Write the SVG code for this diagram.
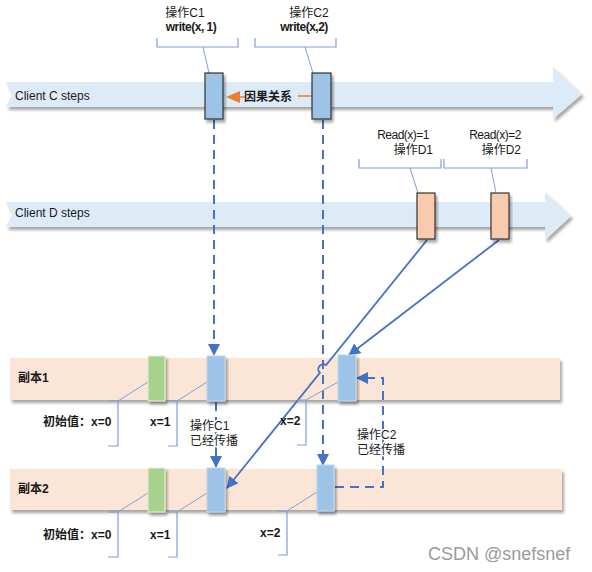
<svg xmlns="http://www.w3.org/2000/svg" width="592" height="572" viewBox="0 0 592 572">
<style>
text{font-family:"Liberation Sans","Noto Sans CJK SC",sans-serif;fill:#1a1a1a;font-size:12px}
.b{font-weight:bold}
.cond{letter-spacing:-0.5px}
.wm{font-size:18px;fill:#9a9a9a}
.band{fill:#DDEBF7}
.rep{fill:#FBE5D6}
.opc{fill:#9DC3E6;stroke:#333;stroke-width:1.2}
.opd{fill:#F8CBAD;stroke:#333;stroke-width:1.2}
.rb{fill:#9DC3E6;stroke:#BDD7EE;stroke-width:1}
.rg{fill:#A9D18E;stroke:#E2F0D9;stroke-width:1}
.br{fill:none;stroke:#7F9FDB;stroke-width:1.2}
.ld{fill:none;stroke:#7F9FDB;stroke-width:1}
.dash{fill:none;stroke:#4472C4;stroke-width:2;stroke-dasharray:9 6}
.sol{fill:none;stroke:#4472C4;stroke-width:1.8}
.halo{stroke:#fff;stroke-width:3px;paint-order:stroke;stroke-linejoin:round}
</style>
<defs>
<filter id="sh" x="-10%" y="-30%" width="130%" height="180%">
<feDropShadow dx="2" dy="3" stdDeviation="1.8" flood-color="#000" flood-opacity="0.35"/>
</filter>
<marker id="ah" viewBox="0 0 12 12" refX="11" refY="6" markerWidth="12" markerHeight="12" markerUnits="userSpaceOnUse" orient="auto">
<path d="M0,0 L12,6 L0,12 z" fill="#4472C4"/>
</marker>
</defs>

<g id="clientC">
<path class="band" filter="url(#sh)" d="M6,82 H553 V67 L582,94 L553,119 V107 H6 L12,94.5 Z"/>
<text x="15" y="100">Client C steps</text>
</g>
<g id="clientD">
<path class="band" filter="url(#sh)" d="M6,202 H545 V192 L571,216 L545,240 V227 H6 L12,214.5 Z"/>
<text x="15" y="217">Client D steps</text>
</g>

<g id="replica1">
<rect class="rep" filter="url(#sh)" x="10" y="358" width="550" height="42"/>
<text class="b" x="18" y="382">副本1</text>
</g>
<g id="replica2">
<rect class="rep" filter="url(#sh)" x="10" y="469" width="552" height="41"/>
<text class="b" x="18" y="493">副本2</text>
</g>

<g id="connectors">
<line class="dash" x1="214" y1="120" x2="214" y2="355" marker-end="url(#ah)"/>
<line class="dash" x1="323" y1="120" x2="323" y2="465" marker-end="url(#ah)"/>
<line class="dash" x1="216" y1="402" x2="216" y2="467" marker-end="url(#ah)"/>
<path class="dash" d="M335,487 H383 V378 H357" marker-end="url(#ah)"/>
<path class="sol" d="M427,240 L326.1,365.1 A5,5 0 0 0 319.9,372.9 L227,488" marker-end="url(#ah)"/>
<line class="sol" x1="499" y1="240" x2="349" y2="355" marker-end="url(#ah)"/>
</g>

<g id="causal">
<polygon points="226,97 240,91 240,103" fill="#ED7D31"/>
<line x1="239" y1="97" x2="246" y2="97" stroke="#ED7D31" stroke-width="1.5"/>
<line x1="298" y1="96" x2="312" y2="96" stroke="#ED7D31" stroke-width="1.5"/>
<text class="b" x="244" y="101">因果关系</text>
</g>

<g id="opC1">
<path class="br" d="M157,38 V47 H238 V38"/>
<line class="ld" x1="203" y1="47" x2="209" y2="73"/>
<rect class="opc" filter="url(#sh)" x="205" y="73" width="18" height="46"/>
<text x="185" y="17" text-anchor="middle">操作C1</text>
<text class="b cond" x="191" y="31" text-anchor="middle">write(x, 1)</text>
</g>
<g id="opC2">
<path class="br" d="M255,38 V47 H336 V38"/>
<line class="ld" x1="305" y1="47" x2="313" y2="73"/>
<rect class="opc" filter="url(#sh)" x="312" y="73" width="19" height="46"/>
<text x="309" y="17" text-anchor="middle">操作C2</text>
<text class="b cond" x="304" y="31" text-anchor="middle">write(x,2)</text>
</g>
<g id="opD1">
<path class="br" d="M359,159 V168 H441 V159"/>
<line class="ld" x1="410" y1="168" x2="418" y2="193"/>
<rect class="opd" filter="url(#sh)" x="417" y="193" width="18" height="46"/>
<text class="cond" x="429" y="139" text-anchor="end">Read(x)=1</text>
<text x="433" y="154" text-anchor="end">操作D1</text>
</g>
<g id="opD2">
<path class="br" d="M444,159 V168 H527 V159"/>
<line class="ld" x1="491" y1="168" x2="496" y2="193"/>
<rect class="opd" filter="url(#sh)" x="491" y="193" width="18" height="46"/>
<text class="cond" x="521" y="139" text-anchor="end">Read(x)=2</text>
<text x="521" y="154" text-anchor="end">操作D2</text>
</g>

<g id="r1x0">
<path class="ld" d="M148,382 L118,401"/>
<path class="br" d="M108,401 H118 V446 H108"/>
<rect class="rg" filter="url(#sh)" x="148" y="356" width="17" height="45"/>
<text class="b" x="43" y="426">初始值：x=0</text>
</g>
<g id="r1x1">
<path class="ld" d="M207,382 L177,401"/>
<path class="br" d="M168,401 H177 V446 H168"/>
<rect class="rb" filter="url(#sh)" x="207" y="356" width="18" height="45"/>
<text class="b" x="150" y="426">x=1</text>
</g>
<g id="r1x2">
<path class="ld" d="M338,382 L306,400"/>
<path class="br" d="M297,400 H306 V445 H297"/>
<rect class="rb" filter="url(#sh)" x="338" y="355" width="18" height="46"/>
<text class="b" x="280" y="425">x=2</text>
</g>

<g id="r2x0">
<path class="ld" d="M148,493 L118,512"/>
<path class="br" d="M108,512 H118 V557 H108"/>
<rect class="rg" filter="url(#sh)" x="148" y="468" width="17" height="44"/>
<text class="b" x="43" y="539">初始值：x=0</text>
</g>
<g id="r2x1">
<path class="ld" d="M207,493 L177,512"/>
<path class="br" d="M168,512 H177 V557 H168"/>
<rect class="rb" filter="url(#sh)" x="207" y="468" width="18" height="44"/>
<text class="b" x="150" y="539">x=1</text>
</g>
<g id="r2x2">
<path class="ld" d="M317,492 L287,511"/>
<path class="br" d="M278,511 H287 V555 H278"/>
<rect class="rb" filter="url(#sh)" x="317" y="465" width="17" height="46"/>
<text class="b" x="260" y="537">x=2</text>
</g>

<g id="propC1">
<text class="halo" x="190" y="430">操作C1</text>
<text class="halo" x="190" y="445">已经传播</text>
</g>
<g id="propC2">
<text class="halo" x="357" y="439">操作C2</text>
<text class="halo" x="357" y="454">已经传播</text>
</g>

<text class="wm" x="428" y="560">CSDN @snefsnef</text>
</svg>
